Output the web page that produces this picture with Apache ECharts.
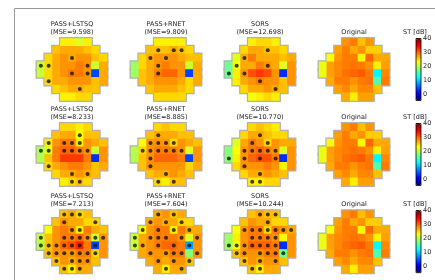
<!DOCTYPE html>
<html><head><meta charset="utf-8">
<script src="https://cdn.jsdelivr.net/npm/echarts@6/dist/echarts.min.js"></script>
<style>html,body{margin:0;padding:0;background:#fff}#c{width:435px;height:280px}</style>
</head><body><div id="c"></div>
<script>
const methods = ['PASS+LSTSQ', 'PASS+RNET', 'SORS', 'Original'];
const mseLabels = [['9.598', '9.809', '12.698'], ['8.233', '8.885', '10.770'], ['7.213', '7.604', '10.244']];
const cbTicks = [0, 10, 20, 30, 40];
const cbMin = -4.5, cbMax = 40;
// sensitivity values (dB), row-major over the 54 test locations
const original = [
  28, 29, 26, 28,
  27.5, 29, 27, 28, 25.5, 25.5,
  23, 28, 29, 29, 23.5, 30, 27, 27,
  22.5, 27.5, 28.5, 29, 29.5, 29, 28, 24, 27.5,
  22.5, 27.5, 28.5, 29.5, 30, 30.5, 29, 12, 28.5,
  27, 29, 29, 28, 29, 29.5, 15.5, 29,
  27.5, 28.5, 27, 28.5, 28.5, 26,
  27, 24, 27.5, 27.5];
const lstsq1 = [
  24, 24, 22, 24,
  26, 27, 27, 27, 26, 25,
  25, 27, 28, 27, 28, 28, 26, 25,
  21, 25, 27, 28, 28, 29, 28, 21, 27,
  21, 25, 27, 28, 29, 29, 28, 4, 27,
  25, 27, 27, 28, 28, 28, 26, 27,
  25, 26, 27, 27, 26, 26,
  24, 24, 25, 25];
const rnet1 = [
  24, 24, 24, 24,
  26, 26, 26, 27, 26, 25,
  25, 27, 28, 28, 28, 27, 26, 26,
  19, 25, 27, 28, 29, 28, 28, 21, 27,
  19, 26, 27, 29, 30, 30, 28, 4, 27,
  26, 27, 28, 28, 28, 27, 25, 27,
  26, 27, 27, 27, 26, 25,
  25, 25, 25, 25];
const sors1 = [
  24, 25, 25, 24,
  25, 27, 27, 26, 26, 25,
  22, 27, 29, 27, 27, 27, 26, 27,
  17, 23, 27, 27, 29, 28, 27, 22, 28,
  17, 24, 28, 31, 32, 31, 28, 3, 28,
  24, 27, 28, 29, 28, 28, 26, 28,
  25, 27, 27, 28, 27, 26,
  23, 24, 25, 24];
const lstsq2 = [
  25, 25, 24, 25,
  26, 27, 27, 23, 26, 26,
  24, 28, 29, 29, 24, 28, 27, 26,
  20, 22, 29, 30, 30, 29, 28, 21, 28,
  20, 26, 29, 32, 32, 32, 29, 3, 28,
  25, 27, 28, 29, 29, 28, 26, 27,
  25, 27, 27, 28, 27, 26,
  24, 25, 26, 25];
const rnet2 = [
  25, 26, 25, 25,
  26, 27, 27, 27, 26, 26,
  23, 28, 28, 28, 25, 28, 27, 26,
  20, 25, 28, 29, 29, 29, 28, 22, 28,
  20, 26, 28, 30, 30, 30, 29, 4, 28,
  26, 28, 28, 28, 28, 28, 25, 27,
  26, 27, 27, 28, 27, 26,
  25, 24, 26, 26];
const sors2 = [
  25, 26, 25, 24,
  25, 27, 27, 26, 25, 25,
  22, 27, 29, 28, 25, 28, 27, 27,
  18, 23, 28, 29, 30, 29, 28, 22, 28,
  18, 24, 28, 30, 31, 31, 29, 3, 28,
  25, 28, 28, 28, 29, 28, 24, 28,
  25, 27, 27, 28, 27, 26,
  24, 24, 25, 25];
const lstsq3 = [
  26, 27, 25, 26,
  26, 28, 27, 27, 25, 25,
  23, 28, 29, 28, 24, 29, 27, 26,
  21, 26, 28, 29, 29, 30, 28, 21, 28,
  20, 26, 28, 30, 31, 33, 29, 4, 28,
  26, 28, 28, 28, 29, 29, 25, 28,
  26, 28, 27, 28, 28, 26,
  26, 24, 27, 27];
const rnet3 = [
  27, 28, 26, 27,
  27, 28, 27, 27, 25, 25,
  23, 28, 29, 29, 24, 29, 27, 27,
  21, 27, 28, 29, 29, 29, 28, 22, 28,
  21, 27, 28, 29, 30, 30, 29, 8, 28,
  27, 28, 28, 28, 29, 29, 18, 28,
  27, 28, 27, 28, 28, 26,
  27, 24, 27, 27];
const sors3 = [
  26, 27, 26, 26,
  26, 28, 27, 27, 25, 25,
  23, 28, 29, 29, 25, 29, 28, 27,
  19, 24, 28, 29, 29, 29, 28, 23, 28,
  19, 23, 28, 30, 30, 30, 29, 3, 28,
  26, 28, 28, 28, 29, 29, 17, 28,
  26, 28, 27, 28, 28, 26,
  26, 24, 27, 27];
// tested locations [column, row]
const dotsLstsq1 = [[4,2],[0,3],[1,3],[6,3],[4,4],[6,4],[1,5],[5,6]];
const dotsRnet1 = [[3,1],[5,1],[6,1],[2,2],[4,2],[3,3],[3,4]];
const dotsSors1 = [[5,1],[2,2],[1,3],[5,3],[0,4],[2,4],[4,5],[6,6]];
const dotsLstsq2 = [[5,1],[1,2],[3,2],[4,2],[5,2],[0,3],[1,3],[3,3],[4,3],[5,3],[6,3],[1,5],[4,6],[6,6],[4,7],[5,7]];
const dotsRnet2 = [[3,1],[2,2],[3,2],[4,2],[5,2],[1,3],[2,3],[3,3],[4,3],[5,3],[6,3],[2,4],[2,5],[4,6],[3,7],[5,7]];
const dotsSors2 = [[4,1],[3,2],[5,2],[2,3],[3,3],[4,3],[5,3],[6,3],[0,4],[2,4],[4,4],[6,4],[2,5],[4,6],[3,7],[4,7]];
const dotsLstsq3 = [[3,0],[4,0],[5,0],[3,1],[7,1],[4,2],[5,2],[0,3],[3,3],[4,3],[5,3],[6,3],[7,3],[8,3],
  [0,4],[1,4],[2,4],[3,4],[4,4],[5,4],[7,4],[1,5],[2,5],[3,5],[4,5],[5,5],[6,5],[7,5],[2,6],[4,6],[5,6],[6,6],[3,7],[4,7],[5,7]];
const dotsRnet3 = [[3,0],[5,0],[2,1],[4,1],[6,1],[1,2],[3,2],[5,2],[7,2],[0,3],[2,3],[3,3],[4,3],[6,3],[8,3],
  [0,4],[1,4],[3,4],[5,4],[7,4],[2,5],[4,5],[5,5],[6,5],[8,5],[3,6],[5,6],[7,6],[4,7],[6,7]];
const dotsSors3 = [[4,0],[5,0],[6,0],[5,1],[2,2],[3,2],[4,2],[5,2],[6,2],[7,2],[8,2],[3,3],[4,3],[5,3],[6,3],
  [0,4],[1,4],[2,4],[3,4],[4,4],[5,4],[6,4],[1,5],[2,5],[4,5],[5,5],[6,5],[7,5],[2,6],[4,6],[6,6],[3,7],[4,7]];

const rowSpan = [[3,6],[2,7],[1,8],[0,8],[0,8],[1,8],[2,7],[3,6]];
function toCells(vals) {
  const out = []; let k = 0;
  rowSpan.forEach((s, r) => { for (let c = s[0]; c <= s[1]; c++) out.push([c, r, vals[k++]]); });
  return out;
}
const mapVals = [[lstsq1, rnet1, sors1, original], [lstsq2, rnet2, sors2, original], [lstsq3, rnet3, sors3, original]];
const mapDots = [[dotsLstsq1, dotsRnet1, dotsSors1, null], [dotsLstsq2, dotsRnet2, dotsSors2, null], [dotsLstsq3, dotsRnet3, dotsSors3, null]];

const jet = ['#00007f','#0000ff','#007fff','#00ffff','#7fff7f','#ffff00','#ff7f00','#ff0000','#7f0000'];
const mapLeft0 = 37, mapStep = 94, mapW = 70, mapH = 62;
const mapTops = [38.5, 123.5, 210.7];
const cbLeft = 416, cbW = 5;
const font = 'DejaVu Sans';

const grid = [], xAxis = [], yAxis = [], series = [], visualMap = [], graphic = [];
const catX = [0,1,2,3,4,5,6,7,8], catY = [0,1,2,3,4,5,6,7];
for (let r = 0; r < 3; r++) {
  const colorIdx = [];
  for (let c = 0; c < 4; c++) {
    const gi = grid.length;
    const left = mapLeft0 + mapStep * c;
    grid.push({left: left, top: mapTops[r], width: mapW, height: mapH});
    xAxis.push({type: 'category', data: catX, gridIndex: gi, show: false});
    yAxis.push({type: 'category', data: catY, gridIndex: gi, inverse: true, show: false});
    const cells = toCells(mapVals[r][c]);
    series.push({type: 'heatmap', xAxisIndex: gi, yAxisIndex: gi, data: cells, silent: true,
      itemStyle: {color: '#b0b0b0', borderColor: '#b0b0b0', borderWidth: 2.4}, z: 1});
    colorIdx.push(series.length);
    series.push({type: 'heatmap', xAxisIndex: gi, yAxisIndex: gi, data: cells, silent: true, z: 2});
    if (mapDots[r][c]) {
      series.push({type: 'scatter', xAxisIndex: gi, yAxisIndex: gi, data: mapDots[r][c], symbolSize: 4,
        itemStyle: {color: '#111'}, silent: true, z: 3});
    }
    const cx = left + mapW / 2;
    if (c < 3) {
      graphic.push({type: 'text', x: cx, y: mapTops[r] - 14.5, style: {text: methods[c], font: '6.5px ' + font, fill: '#222', align: 'center', verticalAlign: 'middle'}});
      graphic.push({type: 'text', x: cx, y: mapTops[r] - 6.2, style: {text: '(MSE=' + mseLabels[r][c] + ')', font: '6.5px ' + font, fill: '#222', align: 'center', verticalAlign: 'middle'}});
    } else {
      graphic.push({type: 'text', x: cx, y: mapTops[r] - 6.2, style: {text: methods[c], font: '6.5px ' + font, fill: '#222', align: 'center', verticalAlign: 'middle'}});
    }
  }
  const gi = grid.length;
  grid.push({left: cbLeft, top: mapTops[r], width: cbW, height: mapH, show: true, borderColor: '#000', borderWidth: 0.8, backgroundColor: 'transparent', z: 10});
  xAxis.push({type: 'value', gridIndex: gi, show: false});
  yAxis.push({type: 'value', gridIndex: gi, min: cbMin, max: cbMax, position: 'right',
    axisLine: {show: false}, splitLine: {show: false},
    axisTick: {show: true, length: 3, lineStyle: {color: '#000', width: 0.8}, customValues: cbTicks},
    axisLabel: {show: true, margin: 2, fontSize: 6.5, fontFamily: font, color: '#222', customValues: cbTicks}});
  visualMap.push({type: 'continuous', min: cbMin, max: cbMax, seriesIndex: colorIdx, calculable: false,
    left: cbLeft, top: mapTops[r], itemWidth: cbW, itemHeight: mapH, padding: 0, inRange: {color: jet}, hoverLink: false});
  graphic.push({type: 'text', x: 415, y: mapTops[r] - 6.2, style: {text: 'ST [dB]', font: '6.5px ' + font, fill: '#222', align: 'center', verticalAlign: 'middle'}});
}
graphic.push({type: 'line', shape: {x1: 14.5, y1: 8.5, x2: 435, y2: 8.5}, style: {stroke: '#999', lineWidth: 1}});
graphic.push({type: 'line', shape: {x1: 14.5, y1: 8.5, x2: 14.5, y2: 280}, style: {stroke: '#999', lineWidth: 1}});

const chart = echarts.init(document.getElementById('c'), null, {renderer: 'canvas'});
chart.setOption({animation: false, grid, xAxis, yAxis, series, visualMap, graphic});
</script></body></html>
